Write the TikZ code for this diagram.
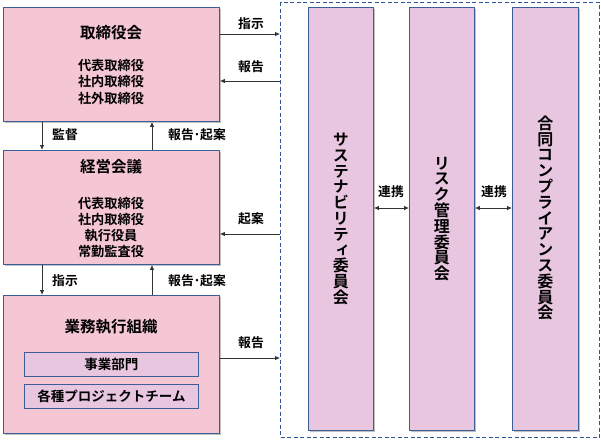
\documentclass[tikz,border=0pt]{standalone}
\usepackage{fontspec}
\setmainfont{Noto Sans CJK JP Bold}
\newfontfamily\jpv{Noto Sans CJK JP Bold}[RawFeature=+vert]
\usetikzlibrary{arrows.meta,shadows}
\definecolor{pinkc}{HTML}{F5C6D3}
\definecolor{lavc}{HTML}{E8C6E0}
\definecolor{bordc}{HTML}{3C5D96}
\definecolor{contc}{HTML}{2F5597}
\definecolor{linec}{HTML}{333333}
\begin{document}
\begin{tikzpicture}[x=1pt,y=-1pt,
  shad/.style={drop shadow={shadow xshift=1.5pt,shadow yshift=-1.5pt,fill=black!40,opacity=0.6}},
  box/.style={draw=bordc,line width=0.9pt,fill=pinkc,shad,anchor=north west,inner sep=0pt},
  inbox/.style={draw=bordc,line width=0.9pt,fill=lavc,anchor=north west,inner sep=0pt,
    font=\fontsize{13.5}{16}\selectfont},
  colbox/.style={draw=bordc,line width=0.9pt,fill=lavc,shad,anchor=north west,inner sep=0pt},
  cont/.style={draw=contc,line width=1.4pt,dash pattern=on 4pt off 2.5pt,anchor=north west,inner sep=0pt},
  ttl/.style={font=\fontsize{15.5}{18}\selectfont,inner sep=0pt},
  sub/.style={font=\fontsize{13.2}{16.2}\selectfont,align=center,inner sep=0pt},
  lab/.style={font=\fontsize{12.8}{15}\selectfont,inner sep=0pt},
  vtext/.style={font=\jpv\fontsize{16}{15.8}\selectfont,align=center,inner sep=0pt},
  arr/.style={draw=linec,line width=0.8pt,-{Latex[length=5pt,width=4.5pt]}},
  darr/.style={draw=linec,line width=0.8pt,{Latex[length=5pt,width=4.5pt]}-{Latex[length=5pt,width=4.5pt]}}]
\useasboundingbox[fill=white] (0,0) rectangle (601,442);
% container
\node[cont,minimum width=319pt,minimum height=435pt] (cont) at (280,2) {};
% left boxes
\node[box,minimum width=216pt,minimum height=114pt] (b1) at (3,7) {};
\node[ttl] (t1) at (111,33) {取締役会};
\node[sub] (s1) at (111,82) {代表取締役\\社内取締役\\社外取締役};
\node[box,minimum width=216pt,minimum height=114pt] (b2) at (3,150) {};
\node[ttl] (t2) at (111,167) {経営会議};
\node[sub] (s2) at (111,227.5) {代表取締役\\社内取締役\\執行役員\\常勤監査役};
\node[box,minimum width=216pt,minimum height=138pt] (b3) at (3,295) {};
\node[ttl] (t3) at (111,327) {業務執行組織};
\node[inbox,minimum width=174pt,minimum height=24pt] (i1) at (24,352) {事業部門};
\node[inbox,minimum width=174pt,minimum height=24pt] (i2) at (24,384) {各種プロジェクトチーム};
% columns
\node[colbox,minimum width=65pt,minimum height=423pt] (c1) at (308,7) {};
\node[colbox,minimum width=65pt,minimum height=423pt] (c2) at (409,7) {};
\node[colbox,minimum width=66pt,minimum height=423pt] (c3) at (512,7) {};
\node[vtext] (v1) at (c1.center |- 0,219) {サ\\ス\\テ\\ナ\\ビ\\リ\\テ\\ィ\\委\\員\\会};
\node[vtext] (v2) at (c2.center |- 0,219) {リ\\ス\\ク\\管\\理\\委\\員\\会};
\node[vtext] (v3) at (c3.center |- 0,218) {合\\同\\コ\\ン\\プ\\ラ\\イ\\ア\\ン\\ス\\委\\員\\会};
% horizontal connectors
\draw[arr] (b1.east |- 0,34) -- (cont.west |- 0,34);
\node[lab] (l1) at (251,24) {指示};
\draw[arr] (cont.west |- 0,81) -- (b1.east |- 0,81);
\node[lab] (l2) at (251,67) {報告};
\draw[arr] (cont.west |- 0,234) -- (b2.east |- 0,234);
\node[lab] (l3) at (251,219) {起案};
\draw[arr] (b3.east |- 0,358) -- (cont.west |- 0,358);
\node[lab] (l4) at (251,343) {報告};
% vertical connectors
\draw[arr] (b1.south -| 42,0) -- (b2.north -| 42,0);
\node[lab] (l5) at (65,135) {監督};
\draw[arr] (b2.north -| 152,0) -- (b1.south -| 152,0);
\node[lab] (l6) at (197,135) {報告･起案};
\draw[arr] (b2.south -| 42,0) -- (b3.north -| 42,0);
\node[lab] (l7) at (65,281) {指示};
\draw[arr] (b3.north -| 152,0) -- (b2.south -| 152,0);
\node[lab] (l8) at (197,281) {報告･起案};
% renkei
\draw[darr] (c1.east |- 0,208) -- (c2.west |- 0,208);
\node[lab] (l9) at (391,192) {連携};
\draw[darr] (c2.east |- 0,208) -- (c3.west |- 0,208);
\node[lab] (l10) at (494,192) {連携};
\end{tikzpicture}
\end{document}
